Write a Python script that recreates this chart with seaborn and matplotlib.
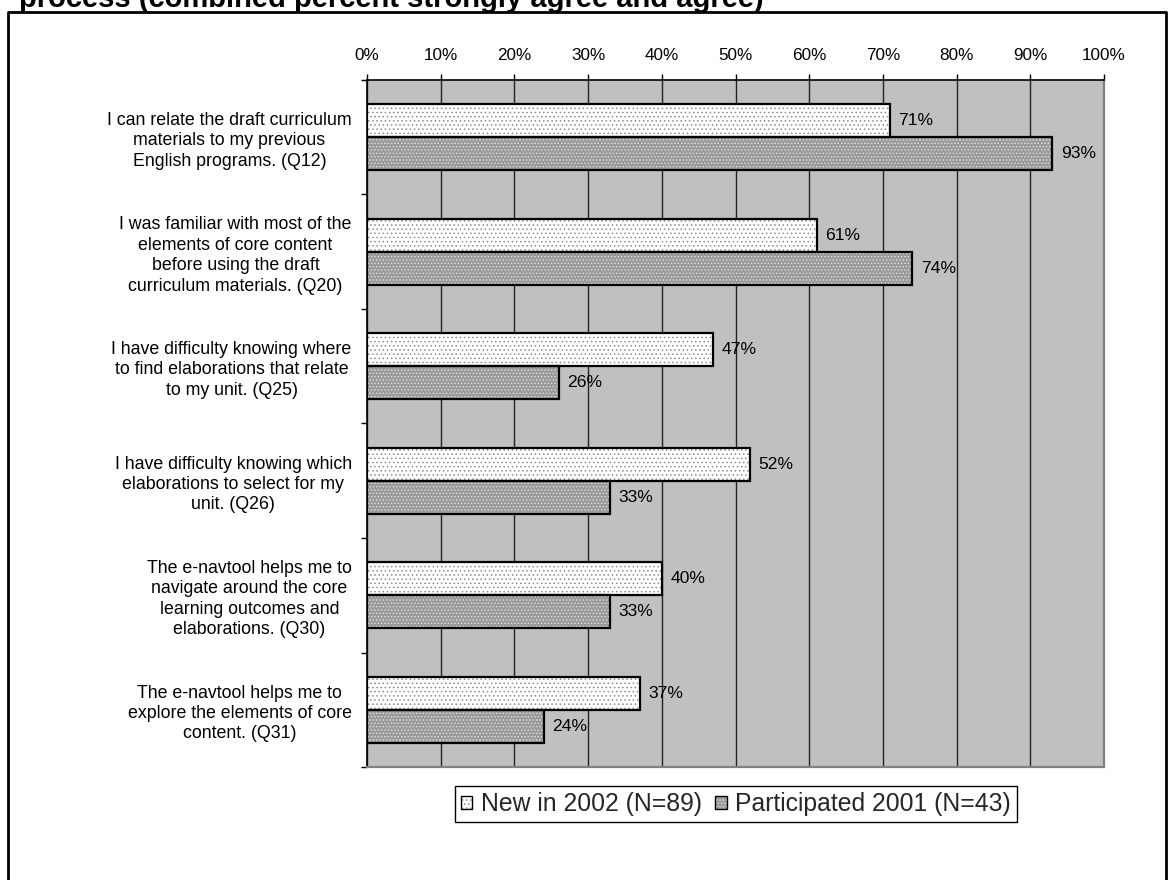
import matplotlib
matplotlib.use("Agg")
import matplotlib.pyplot as plt
from matplotlib.patches import Rectangle, Patch
from matplotlib.lines import Line2D
from matplotlib.legend_handler import HandlerTuple
import seaborn as sns
import pandas as pd

# Survey statements (horizontal categories)
questions = [
    "I can relate the draft curriculum\nmaterials to my previous\nEnglish programs. (Q12)",
    "I was familiar with most of the\nelements of core content\nbefore using the draft\ncurriculum materials. (Q20)",
    "I have difficulty knowing where\nto find elaborations that relate\nto my unit. (Q25)",
    "I have difficulty knowing which\nelaborations to select for my\nunit. (Q26)",
    "The e-navtool helps me to\nnavigate around the core\nlearning outcomes and\nelaborations. (Q30)",
    "The e-navtool helps me to\nexplore the elements of core\ncontent. (Q31)",
]
groups = ["New in 2002 (N=89)", "Participated 2001 (N=43)"]
new_2002 = [71, 61, 47, 52, 40, 37]
participated_2001 = [93, 74, 26, 33, 33, 24]
x_ticks = list(range(0, 101, 10))
title = "process (combined percent strongly agree and agree)"

df = pd.DataFrame({
    "question": questions * 2,
    "group": [groups[0]] * len(questions) + [groups[1]] * len(questions),
    "pct": new_2002 + participated_2001,
})

# fill / stipple colours for each group
styles = {
    groups[0]: dict(face="#ffffff", dots="#8c8c8c", hatch="...."),
    groups[1]: dict(face="#9a9a9a", dots="#e2e2e2", hatch="....."),
}

sns.set_style("white")
plt.rcParams["font.family"] = ["Liberation Sans", "DejaVu Sans"]
plt.rcParams["hatch.linewidth"] = 0.6

W, H = 1173, 880
fig = plt.figure(figsize=(W / 100, H / 100), dpi=100)
ax = fig.add_axes([367 / W, 1 - 767 / H, (1104 - 367) / W, (767 - 80) / H])

sns.barplot(
    data=df, y="question", x="pct", hue="group", order=questions,
    hue_order=groups, orient="h", width=0.576, gap=0, dodge=True,
    palette={g: styles[g]["face"] for g in groups}, saturation=1,
    errorbar=None, legend=False, linewidth=0, ax=ax,
)

for container, g in zip(ax.containers, groups):
    st = styles[g]
    for bar in container:
        bar.set_hatch(st["hatch"])
        bar.set_edgecolor(st["dots"])
        bar.set_linewidth(0)
        bar.set_zorder(2)
        ax.add_patch(Rectangle(bar.get_xy(), bar.get_width(), bar.get_height(),
                               fill=False, edgecolor="black", linewidth=1.6,
                               zorder=2.5))
    ax.bar_label(container, labels=[f"{v:g}%" for v in container.datavalues],
                 padding=6, fontsize=12.6, color="black", zorder=3)

ax.set_facecolor("#c0c0c0")
ax.set_xlim(0, 100)
ax.set_ylim(len(questions) - 0.5, -0.5)
ax.set_xticks(x_ticks)
ax.xaxis.set_major_formatter(lambda v, p: f"{v:.0f}%")
ax.xaxis.tick_top()
ax.tick_params(axis="x", which="major", top=True, bottom=False, labeltop=True,
               labelbottom=False, direction="out", length=4, width=1,
               pad=8, labelsize=12.3, color="black", labelcolor="black")
ax.grid(axis="x", color="#222222", linewidth=1)
ax.grid(axis="y", visible=False)
ax.set_axisbelow(True)

ax.set_yticks([i - 0.5 for i in range(len(questions) + 1)], minor=True)
ax.tick_params(axis="y", which="minor", left=True, direction="out", length=4,
               width=1, color="black")
ax.tick_params(axis="y", which="major", left=False, length=0, pad=11,
               labelsize=12.8, labelcolor="black")
for lbl in ax.get_yticklabels():
    lbl.set_multialignment("center")
    lbl.set_linespacing(1.26)
ax.set_xlabel("")
ax.set_ylabel("")

for side in ("top", "left"):
    ax.spines[side].set_color("black")
    ax.spines[side].set_linewidth(1.2)
for side in ("right", "bottom"):
    ax.spines[side].set_color("#808080")
    ax.spines[side].set_linewidth(1.6)
for sp in ax.spines.values():
    sp.set_visible(True)

handles = [
    (Patch(facecolor=styles[g]["face"], edgecolor=styles[g]["dots"],
           hatch=styles[g]["hatch"], linewidth=0),
     Patch(fill=False, edgecolor="black", linewidth=1.0))
    for g in groups
]
leg = fig.legend(handles, groups, loc="center",
                 bbox_to_anchor=(736 / W, 1 - 804 / H), ncol=2,
                 frameon=True, fancybox=False, framealpha=1,
                 edgecolor="black", fontsize=17.8, handlelength=0.45,
                 handleheight=0.45, handletextpad=0.35, columnspacing=0.55,
                 borderpad=0.25, borderaxespad=0,
                 handler_map={tuple: HandlerTuple(ndivide=1)})
leg.get_frame().set_linewidth(1.0)

# outer frame around the chart
fig.add_artist(Line2D([8 / W, 8 / W, 1166 / W, 1166 / W],
                      [-0.01, 1 - 12 / H, 1 - 12 / H, -0.01],
                      transform=fig.transFigure, color="black", linewidth=2))

fig.text(19 / W, 1 - 7 / H, title, fontsize=21, fontweight="bold",
         ha="left", va="baseline", color="black")

fig.savefig("out.png", dpi=100, facecolor="white")
